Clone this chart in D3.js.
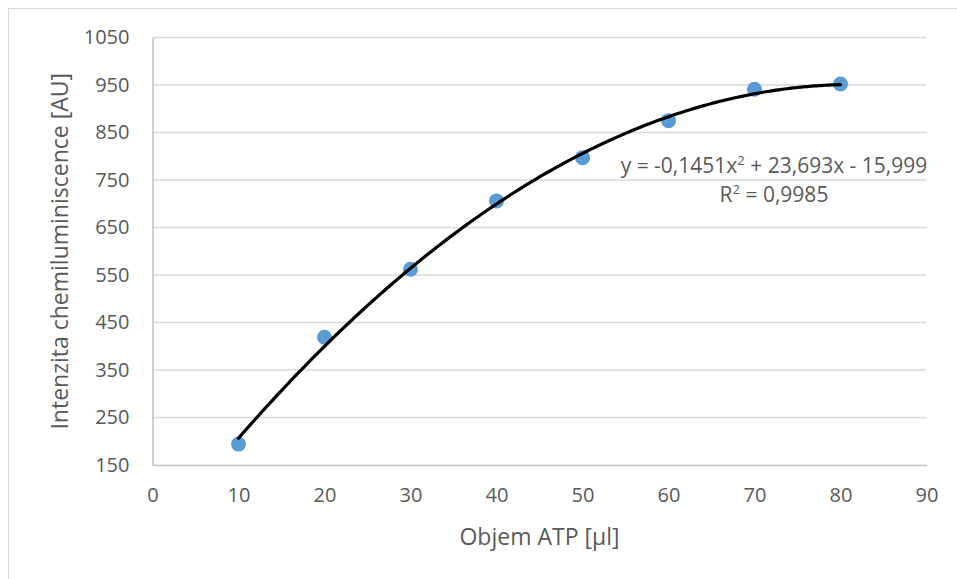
<!DOCTYPE html>
<html>
<head>
<meta charset="utf-8">
<script src="https://cdn.jsdelivr.net/npm/d3@7"></script>
<style>
  body { margin: 0; background: #fff; }
  text { font-family: "Open Sans", sans-serif; fill: #595959; }
</style>
</head>
<body>
<div id="chart"></div>
<script>
// Data
const volumes = [10, 20, 30, 40, 50, 60, 70, 80];
const intensity = [194, 419, 562, 706, 797, 875, 941, 952];
const xTicks = [0, 10, 20, 30, 40, 50, 60, 70, 80, 90];
const yTicks = [150, 250, 350, 450, 550, 650, 750, 850, 950, 1050];
// Trendline coefficients as shown in the label: y = a x^2 + b x + c
const trendCoef = [-0.1451, 23.693, -15.999];
const equationLabel = 'y = -0,1451x';
const equationRest = ' + 23,693x - 15,999';
const r2Label = ' = 0,9985';

const width = 957;
const height = 579;
const margin = { top: 37.5, right: 30.5, bottom: 114, left: 152.5 };

const svg = d3.select('#chart')
    .append('svg')
    .attr('width', width)
    .attr('height', height);

// Chart area border
svg.append('rect')
    .attr('x', 8.5)
    .attr('y', 8.5)
    .attr('width', 1000)
    .attr('height', 1000)
    .attr('fill', 'none')
    .attr('stroke', '#d9d9d9');

const x = d3.scaleLinear().domain([0, 90]).range([margin.left, width - margin.right]);
const y = d3.scaleLinear().domain([150, 1050]).range([height - margin.bottom, margin.top]);

// Horizontal gridlines
svg.append('g')
    .selectAll('line')
    .data(yTicks.slice(1))
    .join('line')
    .attr('x1', x(0))
    .attr('x2', x(90))
    .attr('y1', d => y(d))
    .attr('y2', d => y(d))
    .attr('stroke', '#d9d9d9')
    .attr('stroke-width', 1.5);

// Axes
const xAxis = svg.append('g')
    .attr('transform', `translate(0,${y(150)})`)
    .call(d3.axisBottom(x).tickValues(xTicks).tickFormat(d3.format('d')).tickSize(0).tickPadding(23));
xAxis.select('.domain').attr('stroke', '#bfbfbf').attr('stroke-width', 1.5);
xAxis.selectAll('text').style('font-size', '20px').attr('fill', '#595959');

const yAxis = svg.append('g')
    .attr('transform', `translate(${x(0)},0)`)
    .call(d3.axisLeft(y).tickValues(yTicks).tickFormat(d3.format('d')).tickSize(0).tickPadding(23));
yAxis.select('.domain').attr('stroke', '#bfbfbf').attr('stroke-width', 1.5);
yAxis.selectAll('text').style('font-size', '20px').attr('fill', '#595959');

// Axis titles
svg.append('text')
    .attr('x', (x(0) + x(90)) / 2)
    .attr('y', 545)
    .attr('text-anchor', 'middle')
    .style('font-size', '23px')
    .text('Objem ATP [µl]');

svg.append('text')
    .attr('transform', `translate(68,${(y(150) + y(1050)) / 2}) rotate(-90)`)
    .attr('text-anchor', 'middle')
    .style('font-size', '23px')
    .text('Intenzita chemiluminiscence [AU]');

// Points
const points = volumes.map((v, i) => ({ x: v, y: intensity[i] }));
svg.append('g')
    .selectAll('circle')
    .data(points)
    .join('circle')
    .attr('cx', d => x(d.x))
    .attr('cy', d => y(d.y))
    .attr('r', 7.5)
    .attr('fill', '#5b9bd5');

// Polynomial trendline
const trendX = d3.range(10, 80.01, 0.5);
const poly = v => trendCoef[0] * v * v + trendCoef[1] * v + trendCoef[2];
svg.append('path')
    .datum(trendX)
    .attr('fill', 'none')
    .attr('stroke', '#000')
    .attr('stroke-width', 3.2)
    .attr('stroke-linecap', 'round')
    .attr('d', d3.line().x(d => x(d)).y(d => y(poly(d))).curve(d3.curveBasis));

// Trendline label
const eq = svg.append('text')
    .attr('x', 774)
    .attr('y', 173)
    .attr('text-anchor', 'middle')
    .style('font-size', '21px');
eq.append('tspan').text(equationLabel);
eq.append('tspan').attr('dy', -8).style('font-size', '13px').text('2');
eq.append('tspan').attr('dy', 8).text(equationRest);

const r2 = svg.append('text')
    .attr('x', 774)
    .attr('y', 202)
    .attr('text-anchor', 'middle')
    .style('font-size', '21px');
r2.append('tspan').text('R');
r2.append('tspan').attr('dy', -8).style('font-size', '13px').text('2');
r2.append('tspan').attr('dy', 8).text(r2Label);
</script>
</body>
</html>
